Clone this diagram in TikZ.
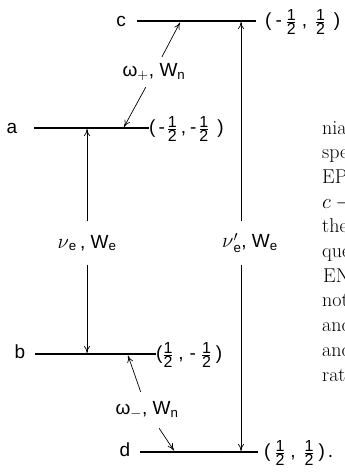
\documentclass[tikz,border=0pt]{standalone}
\usepackage{amsmath}
\usepackage{fontspec}
\newfontfamily\lab{Liberation Sans}
\usetikzlibrary{arrows.meta}
\newcommand\hfdigit[1]{\hbox{\lab\fontsize{16}{17}\selectfont #1}}
\newcommand\hf{\ensuremath{\vcenter{\offinterlineskip\halign{\hfil##\hfil\cr\hfdigit{1}\cr\noalign{\kern1.5pt}\rule{8pt}{0.6pt}\cr\noalign{\kern1.5pt}\hfdigit{2}\cr}}}}
\newcommand\hs[1]{\hspace{#1pt}}
\newcommand\gnu{{\fontsize{22}{24}\selectfont$\nu$}}
\begin{document}
\begin{tikzpicture}[x=1pt,y=-1pt,
  level/.style={line width=1.5pt},
  arr/.style={line width=0.7pt,-{To[length=7pt,width=6pt]}},
  lbl/.style={font=\lab\fontsize{19}{22}\selectfont,inner sep=0pt},
  txt/.style={font=\fontsize{20}{24}\selectfont,inner sep=0pt,anchor=base west}]
\useasboundingbox (0,0) rectangle (345,475);
% level lines
\coordinate (cL) at (137,21); \coordinate (cR) at (256,21);
\coordinate (aL) at (34,128); \coordinate (aR) at (149,128);
\coordinate (bL) at (35,354); \coordinate (bR) at (156,354);
\coordinate (dL) at (140,452); \coordinate (dR) at (258,452);
\draw[level] (cL) -- (cR);
\draw[level] (aL) -- (aR);
\draw[level] (bL) -- (bR);
\draw[level] (dL) -- (dR);
% level names
\node[lbl] (cn) at (121,21) {c};
\node[lbl] (an) at (12,128) {a};
\node[lbl] (bn) at (20,352) {b};
\node[lbl] (dn) at (125,450) {d};
% quantum numbers
\node[lbl,anchor=west] (cq) at (265,22) {(\hs4-\hs5\hf\hs6,\hs9\hf\hs9)};
\node[lbl,anchor=west] (aq) at (149,129) {(\hs3-\hs3\hf\hs4,\hs4-\hs3\hf\hs9)};
\node[lbl,anchor=west] (bq) at (156,355) {(\hs1\hf\hs6,\hs6-\hs6\hf\hs5)};
\node[lbl,anchor=west] (dq) at (264,453) {(\hs5\hf\hs6,\hs9\hf\hs5)\hs3.};
% electron transitions
\coordinate (aNu) at (87,129); \coordinate (bNu) at (87,353);
\node[lbl,minimum height=43pt] (nue) at (87,243) {\gnu$_{\text{e}}$\,, W$_{\text{e}}$};
\draw[arr] (nue) -- (aNu);
\draw[arr] (nue) -- (bNu);
\coordinate (cNu) at (241,22); \coordinate (dNu) at (241,451);
\node[lbl,minimum height=43pt] (nupe) at (250,243) {\gnu$'_{\text{e}}$, W$_{\text{e}}$};
\draw[arr] (nupe.north -| cNu) -- (cNu);
\draw[arr] (nupe.south -| dNu) -- (dNu);
% nuclear transitions
\coordinate (cW) at (180,22.5); \coordinate (aW) at (124,127);
\node[lbl,minimum height=30pt] (wp) at (154,72) {ω$_+$, W$_{\text{n}}$};
\draw[arr] (wp) -- (cW);
\draw[arr] (wp) -- (aW);
\coordinate (bW) at (128,355.5); \coordinate (dW) at (174,450.5);
\node[lbl,minimum height=36pt] (wm) at (147,410) {ω$_-$, W$_{\text{n}}$};
\draw[arr] (wm) -- (bW);
\draw[arr] (wm) -- (dW);
% cut-off text of the page
\begin{scope}
\clip (0,0) rectangle (345,475);
\node[txt] (t1) at (322,134) {nian};
\node[txt] (t2) at (322,158.7) {spec};
\node[txt] (t3) at (322,183.4) {EPR};
\node[txt] (t4) at (322,208.1) {$c-{}$};
\node[txt] (t5) at (322,232.8) {the};
\node[txt] (t6) at (322,257.5) {quen};
\node[txt] (t7) at (323,282.2) {END};
\node[txt] (t8) at (322,306.9) {not};
\node[txt] (t9) at (322,331.6) {and};
\node[txt] (t10) at (322,356.3) {and};
\node[txt] (t11) at (322,381) {rate};
\end{scope}
\end{tikzpicture}
\end{document}
